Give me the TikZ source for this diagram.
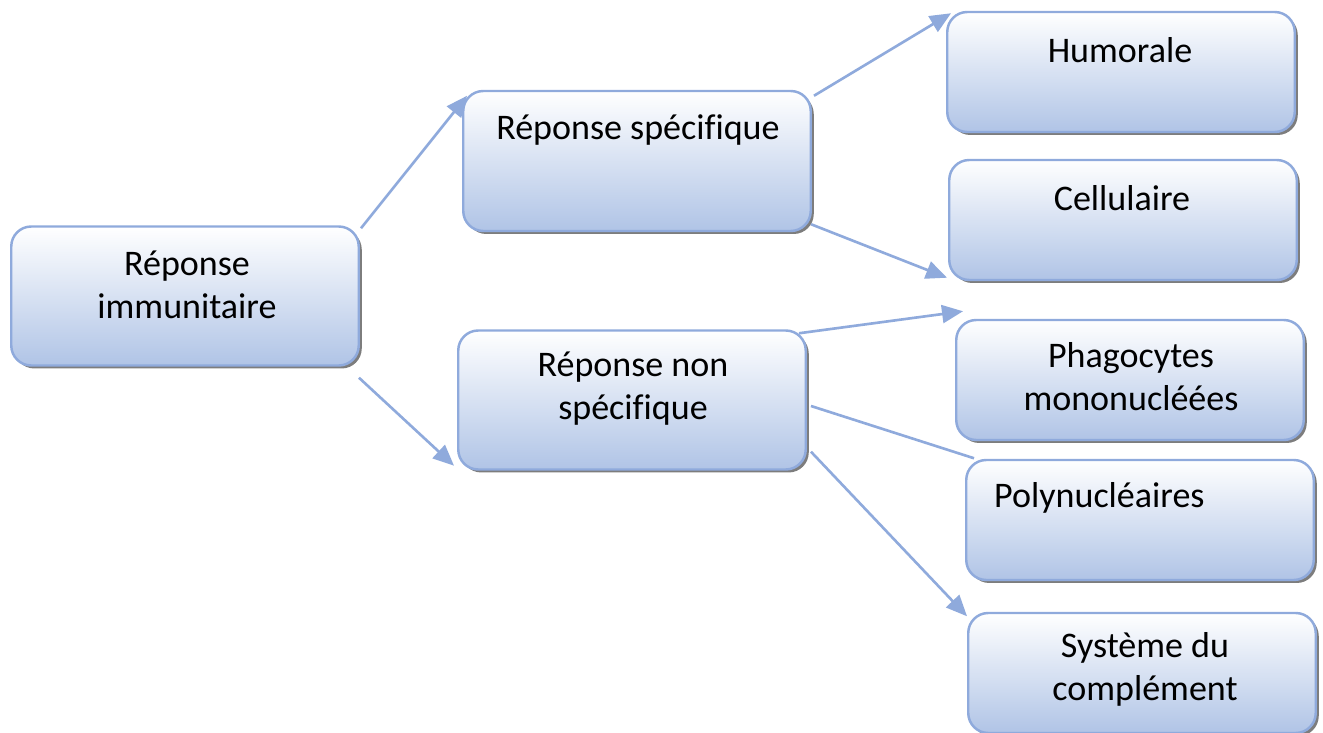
\documentclass[tikz,border=0pt]{standalone}
\usepackage{fontspec}
\setmainfont[Ligatures={NoCommon}]{Carlito}
\usetikzlibrary{arrows.meta,shadows}

\definecolor{boxline}{RGB}{143,170,220}
\definecolor{boxbot}{RGB}{176,196,230}
\definecolor{arrowcol}{RGB}{143,170,220}

\tikzset{
  repbox/.style={draw=boxline, line width=1.4pt, rounded corners=0.4cm,
    top color=white, bottom color=boxbot,
    drop shadow={shadow xshift=0.06cm, shadow yshift=-0.06cm, fill=black!60, opacity=0.85},
    minimum width=6.95cm, inner sep=0pt},
  reptext/.style={align=center, font=\fontsize{20.5}{24.5}\selectfont},
  fleche/.style={draw=arrowcol, line width=1.5pt, -{Triangle[length=0.42cm,width=0.36cm]}},
  trait/.style={draw=arrowcol, line width=1.5pt}
}

\begin{document}
\begin{tikzpicture}
\useasboundingbox (0,0) rectangle (26.46,14.66);

\node[repbox, minimum height=2.78cm] (immun) at (3.7,8.74) {};
\node[repbox, minimum height=2.8cm] (specif) at (12.74,11.44) {};
\node[repbox, minimum height=2.78cm] (nonspec) at (12.64,6.66) {};

\node[repbox, minimum height=2.4cm] (humor) at (22.42,13.22) {};
\node[repbox, minimum height=2.4cm] (cellul) at (22.46,10.26) {};
\node[repbox, minimum height=2.4cm] (phago) at (22.6,7.06) {};
\node[repbox, minimum height=2.4cm] (polynu) at (22.8,4.26) {};
\node[repbox, minimum height=2.4cm] (complem) at (22.84,1.2) {};

\node[reptext] at (3.74,8.96) {Réponse\\immunitaire};
\node[reptext] at (12.76,12.06) {Réponse spécifique};
\node[reptext] at (12.66,6.88) {Réponse non\\spécifique};
\node[reptext] at (22.4,13.66) {Humorale};
\node[reptext] at (22.44,10.7) {Cellulaire};
\node[reptext] at (22.62,7.12) {Phagocytes\\mononucléées};
\node[reptext, anchor=west] at (19.76,4.7) {Polynucléaires};
\node[reptext] at (22.9,1.28) {Système du\\complément};

\draw[fleche] ([shift={(0.02,-0.06)}]immun.north east) -- ([shift={(0.1,-0.12)}]specif.north west);
\draw[fleche] ([shift={(-0.02,-0.22)}]immun.south east) -- ([shift={(-0.06,0.1)}]nonspec.south west);

\draw[fleche] ([shift={(0.04,-0.12)}]specif.north east) -- ([shift={(0.1,-0.05)}]humor.north west);
\draw[fleche] ([shift={(-0.02,0.16)}]specif.south east) -- ([shift={(-0.02,0.07)}]cellul.south west);

\draw[fleche] ([shift={(-0.16,-0.08)}]nonspec.north east) -- ([shift={(0.16,0.15)}]phago.north west);
\draw[trait] ([shift={(0.08,-0.12)}]nonspec.east) -- ([shift={(0.18,0.01)}]polynu.north west);
\draw[fleche] ([shift={(0.08,0.38)}]nonspec.south east) -- ([shift={(0.0,-0.09)}]complem.north west);
\end{tikzpicture}
\end{document}
